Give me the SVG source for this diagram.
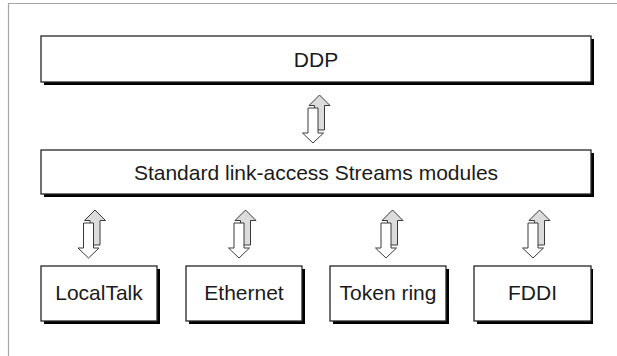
<svg xmlns="http://www.w3.org/2000/svg" width="617" height="356" viewBox="0 0 617 356">
<defs>
<style>
.frame{fill:none;stroke:#a6a6a6;stroke-width:1.2}
.box{fill:#fff;stroke:#262626;stroke-width:1.3}
.shadow{fill:#000}
.lbl{font-family:"Liberation Sans",Arial,sans-serif;font-size:21px;fill:#1a1a1a;text-anchor:middle}
.up{fill:#dcdcdc;stroke:#3a3a3a;stroke-width:1}
.down{fill:#fff;stroke:#3a3a3a;stroke-width:1}
</style>
<g id="pair">
<path class="up" d="M0,0 L10.5,10.5 L5,10.5 L5,35 L-5,35 L-5,10.5 L-10.5,10.5 Z"/>
<path class="down" d="M-11.5,13 L-1.5,13 L-1.5,38 L4,38 L-6.5,48 L-17,38 L-11.5,38 Z"/>
</g>
</defs>
<path class="frame" d="M8.5,356 V3.5 H617"/>
<g id="connectors">
<use href="#pair" x="319.5" y="95"/>
<use href="#pair" x="95" y="210"/>
<use href="#pair" x="245.5" y="210"/>
<use href="#pair" x="392.5" y="210"/>
<use href="#pair" x="539.5" y="210"/>
</g>
<g id="ddp">
<rect class="shadow" x="44" y="39" width="550" height="46"/>
<rect class="box" x="41" y="36" width="550" height="46"/>
<text class="lbl" x="316" y="66.5">DDP</text>
</g>
<g id="streams">
<rect class="shadow" x="44" y="153" width="550" height="44"/>
<rect class="box" x="41" y="150" width="550" height="44"/>
<text class="lbl" x="316" y="179.5">Standard link-access Streams modules</text>
</g>
<g id="localtalk">
<rect class="shadow" x="44" y="269" width="116" height="55"/>
<rect class="box" x="41" y="266" width="116" height="55"/>
<text class="lbl" x="99" y="299.5">LocalTalk</text>
</g>
<g id="ethernet">
<rect class="shadow" x="189" y="269" width="116" height="55"/>
<rect class="box" x="186" y="266" width="116" height="55"/>
<text class="lbl" x="244" y="299.5">Ethernet</text>
</g>
<g id="tokenring">
<rect class="shadow" x="333" y="269" width="116" height="55"/>
<rect class="box" x="330" y="266" width="116" height="55"/>
<text class="lbl" x="388" y="299.5">Token ring</text>
</g>
<g id="fddi">
<rect class="shadow" x="477" y="269" width="116" height="55"/>
<rect class="box" x="474" y="266" width="117" height="55"/>
<text class="lbl" x="532.5" y="299.5">FDDI</text>
</g>
</svg>
